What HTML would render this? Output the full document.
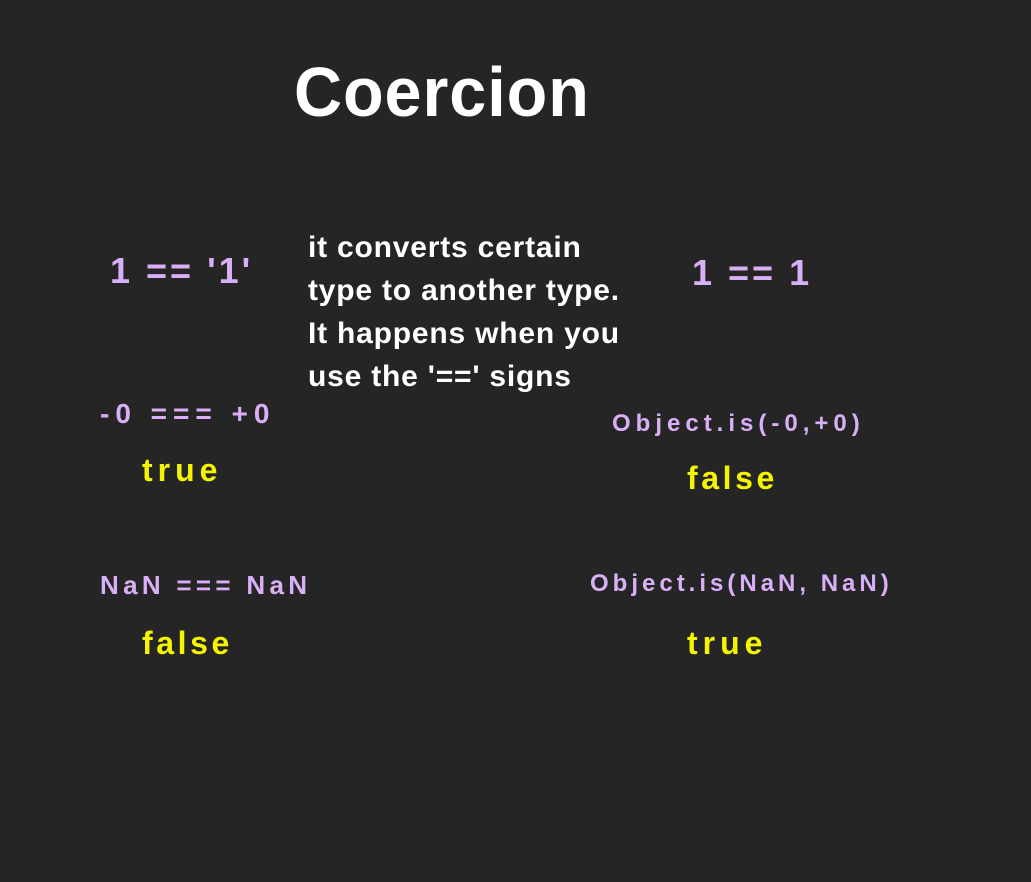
<!DOCTYPE html>
<html><head><meta charset="utf-8"><style>
body{margin:0;width:1031px;height:882px;background:#252525;overflow:hidden;position:relative;font-family:"Liberation Sans",sans-serif;font-weight:bold}
div{position:absolute;white-space:nowrap}
.p{color:#d9b0f7}
.y{color:#f5f500}
.w{color:#fff}
</style></head><body>
<div class="w" style="left:294px;top:52px;font-size:70px;letter-spacing:1px;transform:scaleX(0.95);transform-origin:left">Coercion</div>
<div class="p" style="left:110px;top:250px;font-size:36px;letter-spacing:3px">1 == '1'</div>
<div class="p" style="left:692px;top:252px;font-size:36px;letter-spacing:3px">1 == 1</div>
<div class="w" style="left:308px;top:226px;font-size:30px;line-height:43px;letter-spacing:0.8px">it converts certain<br>type to another type.<br>It happens when you<br>use the '==' signs</div>
<div class="p" style="left:100px;top:398px;font-size:28px;letter-spacing:6px">-0 === +0</div>
<div class="y" style="left:142px;top:452px;font-size:32px;letter-spacing:5px">true</div>
<div class="p" style="left:612px;top:410px;font-size:24px;letter-spacing:5px">Object.is(-0,+0)</div>
<div class="y" style="left:687px;top:460px;font-size:32px;letter-spacing:3.6px">false</div>
<div class="p" style="left:100px;top:570px;font-size:26px;letter-spacing:4.3px">NaN === NaN</div>
<div class="y" style="left:142px;top:625px;font-size:32px;letter-spacing:3.6px">false</div>
<div class="p" style="left:590px;top:570px;font-size:24px;letter-spacing:4px">Object.is(NaN, NaN)</div>
<div class="y" style="left:687px;top:625px;font-size:32px;letter-spacing:5px">true</div>
</body></html>
